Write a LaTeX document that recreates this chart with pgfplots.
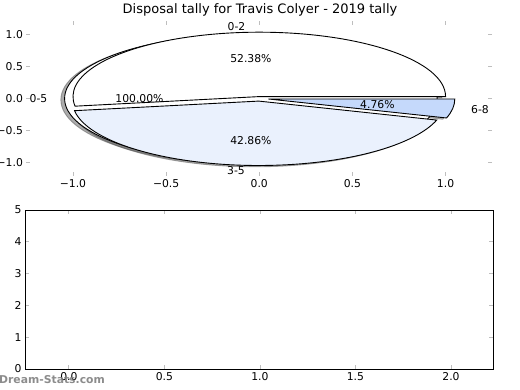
\documentclass[border=0pt]{standalone}
\usepackage{pgfplots}
\pgfplotsset{compat=1.18}
\usepackage{fontspec}
\setmainfont{DejaVu Sans}
\definecolor{sliceC}{RGB}{234,241,253}
\definecolor{sliceD}{RGB}{197,217,251}
\definecolor{tickgray}{RGB}{190,190,190}
\newcommand{\fs}{\fontsize{10.8bp}{12bp}\selectfont}
% pie values (percent)
\def\vA{52.38}  % 0-2
\def\vB{100.00} % 0-5
\def\vC{42.86}  % 3-5
\def\vD{4.76}   % 6-8
\pgfmathsetmacro{\aA}{3.6*\vA}
\pgfmathsetmacro{\aC}{\aA+3.6*\vC}
\pgfmathsetmacro{\aD}{\aC+3.6*\vD}
\newcommand{\pieslice}[5]{%
  \path[#5] (axis cs:#1,#2) -- ++(#3:186.3bp and 64.4bp)
    arc[start angle=#3, end angle=#4, x radius=186.3bp, y radius=64.4bp] -- cycle;}
\begin{document}
\begin{tikzpicture}
\useasboundingbox (0bp,0bp) rectangle (520bp,390bp);
\begin{axis}[
  at={(26.4bp,214.2bp)}, anchor=south west,
  x=186.3bp, y=64.4bp,
  xmin=-1.25, xmax=1.25, ymin=-1.2, ymax=1.2,
  axis line style={draw=none},
  tick align=inside, major tick length=4bp,
  tick style={tickgray, line width=0.9bp},
  xtick={-1,-0.5,0,0.5,1}, xticklabels={−1.0,−0.5,0.0,0.5,1.0},
  ytick={-1,-0.5,0,0.5,1}, yticklabels={−1.0,−0.5,0.0,0.5,1.0},
  ticklabel style={font=\fs},
  clip=false,
]
% shadows (offset -0.02,-0.02), drawn behind all wedges
\path[fill=black!65, draw=black!65, opacity=0.5, line width=0.9bp] (axis cs:-0.065,-0.02) ellipse[x radius=186.3bp, y radius=64.4bp];
\pieslice{-0.02}{0.01}{0}{\aA}{fill=black!65, draw=black!65, opacity=0.5, line width=0.9bp}
\pieslice{-0.023}{-0.06}{\aA}{\aC}{fill=black!65, draw=black!65, opacity=0.5, line width=0.9bp}
\pieslice{0.0295}{-0.0275}{\aC}{\aD}{fill=black!60, draw=black!60, opacity=0.5, line width=0.9bp}
% wedges
\path[fill=white, draw=black, line width=0.9bp] (axis cs:-0.045,0) ellipse[x radius=186.3bp, y radius=64.4bp];
\pieslice{0}{0.03}{0}{\aA}{fill=white, draw=black, line width=0.9bp}
\pieslice{-0.003}{-0.04}{\aA}{\aC}{fill=sliceC, draw=black, line width=0.9bp}
\pieslice{0.0495}{-0.0075}{\aC}{\aD}{fill=sliceD, draw=black, line width=0.9bp}
% labels
\node[font=\fs] at (axis cs:-0.122,1.118) {0-2};
\node[font=\fs] at (axis cs:-0.045,0.621) {52.38\%};
\node[font=\fs] at (axis cs:-1.185,-0.008) {0-5};
\node[font=\fs] at (axis cs:-0.643,-0.008) {100.00\%};
\node[font=\fs] at (axis cs:-0.045,-0.652) {42.86\%};
\node[font=\fs] at (axis cs:-0.125,-1.126) {3-5};
\node[font=\fs] at (axis cs:0.634,-0.093) {4.76\%};
\node[font=\fs] at (axis cs:1.185,-0.179) {6-8};
\end{axis}
\begin{axis}[
  at={(25bp,21bp)}, anchor=south west,
  width=468bp, height=159bp, scale only axis,
  xmin=-0.23, xmax=2.22, ymin=0, ymax=5,
  axis line style={black, line width=0.9bp},
  tick align=inside, major tick length=4bp,
  tick style={tickgray, line width=0.9bp},
  xtick={0,0.5,1,1.5,2}, xticklabels={0.0,0.5,1.0,1.5,2.0},
  ytick={0,1,2,3,4,5}, yticklabels={0,1,2,3,4,5},
  ticklabel style={font=\fs},
]
\addplot[draw=none, forget plot] coordinates {(0,0)};
\end{axis}
\node[font=\fontsize{13bp}{15bp}\selectfont] at (260bp,380bp) {Disposal tally for Travis Colyer - 2019 tally};
\node[anchor=west, inner sep=0pt, text=black!50, opacity=0.9, font=\bfseries\fontsize{10.8bp}{12bp}\selectfont] at (-1bp,10bp) {Dream-Stats.com};
\end{tikzpicture}
\end{document}
